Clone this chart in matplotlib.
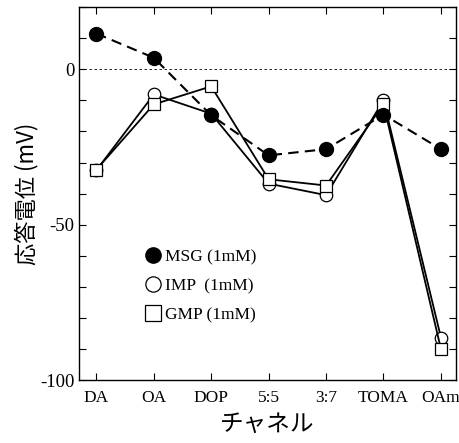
import matplotlib
matplotlib.use("Agg")
import matplotlib.pyplot as plt
from matplotlib.lines import Line2D
from matplotlib.ticker import MultipleLocator

# Datos
canales = ["DA", "OA", "DOP", "5:5", "3:7", "TOMA", "OAm"]
msg = [11.5, 3.7, -14.8, -27.7, -25.7, -14.6, -25.7]
imp = [-32.5, -8.1, -14.3, -36.8, -40.5, -10.0, -86.3]
gmp = [-32.3, -11.3, -5.5, -35.4, -37.4, -11.3, -90.0]
etiquetas = ["MSG (1mM)", "IMP  (1mM)", "GMP (1mM)"]

serif = ["Liberation Serif", "DejaVu Serif"]
cjk = ["Noto Sans CJK JP", "DejaVu Sans"]

fig = plt.figure(figsize=(4.6, 4.43), dpi=100)
ax = fig.add_axes([0.172, 0.142, 0.819, 0.842])
x = list(range(len(canales)))

ax.axhline(0, color="black", lw=0.6, ls=(0, (3, 3)), zorder=1)
ax.plot(x, imp, color="black", lw=1.3, marker="o", ms=9, mfc="white", mec="black", mew=0.9, zorder=2)
ax.plot(x, gmp, color="black", lw=1.3, marker="s", ms=9, mfc="white", mec="black", mew=0.9, zorder=2)
ax.plot(x, msg, color="black", lw=1.5, ls=(0, (5, 3)), marker="o", ms=10, mfc="black", mec="black", zorder=3)

ax.set_xlim(-0.3, 6.26)
ax.set_ylim(-100, 20)
ax.set_xticks(x)
ax.set_xticklabels(canales, family=serif, fontsize=12.5)
ax.set_yticks([0, -50, -100])
ax.set_yticklabels(["0", "-50", "-100"], family=serif, fontsize=13.5)
ax.yaxis.set_minor_locator(MultipleLocator(10))
ax.tick_params(which="both", direction="in", top=True, right=True, length=5, width=0.8)
ax.tick_params(axis="x", pad=7)
for s in ax.spines.values():
    s.set_linewidth(1.0)

ax.set_ylabel("応答電位 (mV)", family=cjk, fontsize=16, labelpad=1)
ax.set_xlabel("チャネル", family=cjk, fontsize=17, labelpad=5)

manejadores = [
    Line2D([], [], ls="none", marker="o", ms=11, mfc="black", mec="black"),
    Line2D([], [], ls="none", marker="o", ms=11, mfc="white", mec="black", mew=0.9),
    Line2D([], [], ls="none", marker="s", ms=11, mfc="white", mec="black", mew=0.9),
]
ax.legend(manejadores, etiquetas, loc="upper left", bbox_to_anchor=(0.15, 0.37),
          frameon=False, prop={"family": serif, "size": 12.5}, handletextpad=0.1,
          handlelength=1.2, labelspacing=0.75, borderaxespad=0)

fig.savefig("out.png", dpi=100)
